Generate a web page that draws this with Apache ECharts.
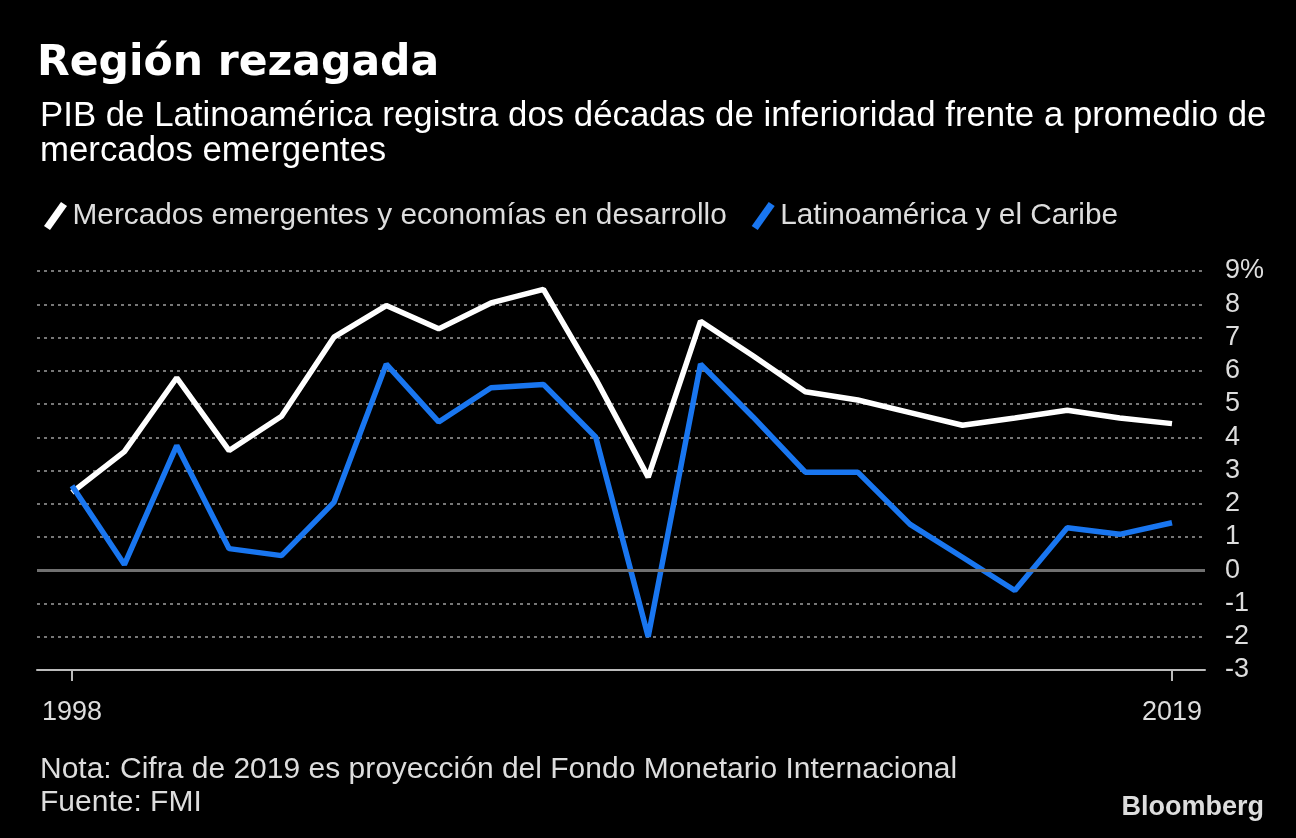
<!DOCTYPE html>
<html>
<head>
<meta charset="utf-8">
<script src="https://cdn.jsdelivr.net/npm/echarts@6/dist/echarts.min.js"></script>
<style>
html,body{margin:0;padding:0;background:#000;}
#chart{width:1296px;height:838px;}
</style>
</head>
<body>
<div id="chart"></div>
<script>
const years = [1998,1999,2000,2001,2002,2003,2004,2005,2006,2007,2008,2009,2010,2011,2012,2013,2014,2015,2016,2017,2018,2019];
const emergingValues = [2.34,3.57,5.79,3.60,4.63,7.01,7.96,7.26,8.04,8.45,5.75,2.80,7.49,6.45,5.37,5.12,4.74,4.36,4.58,4.81,4.58,4.41];
const latamValues = [2.54,0.17,3.75,0.65,0.44,2.04,6.20,4.46,5.49,5.59,4.00,-2.00,6.20,4.61,2.95,2.95,1.38,0.39,-0.61,1.28,1.08,1.43];
const xTickYears = [1998, 2019];
const seriesNames = ['Mercados emergentes y economías en desarrollo', 'Latinoamérica y el Caribe'];
const titleText = 'Región rezagada';
const subtitleText = 'PIB de Latinoamérica registra dos décadas de inferioridad frente a promedio de\nmercados emergentes';
const noteText = 'Nota: Cifra de 2019 es proyección del Fondo Monetario Internacional\nFuente: FMI';

const FONT = 'Liberation Sans';
const chart = echarts.init(document.getElementById('chart'));
const slash = 'path://M0,24 L17,0 L23,4 L6,28 Z';
chart.setOption({
  backgroundColor: '#000',
  animation: false,
  title: [
    {text: titleText, left: 32, top: 37, textStyle: {color: '#fff', fontFamily: 'DejaVu Sans', fontWeight: 'bold', fontSize: 42.5}},
    {text: subtitleText, left: 35, top: 94, textStyle: {color: '#fff', fontFamily: FONT, fontWeight: 'normal', fontSize: 34.8, lineHeight: 35}},
    {text: noteText, left: 35, top: 748, textStyle: {color: '#ddd', fontFamily: FONT, fontWeight: 'normal', fontSize: 30, lineHeight: 33}},
    {text: 'Bloomberg', right: 27, top: 789, textStyle: {color: '#ddd', fontFamily: FONT, fontWeight: 'bold', fontSize: 27}}
  ],
  legend: {
    left: 39, top: 196, itemWidth: 24, itemHeight: 28, itemGap: 25,
    icon: slash,
    textStyle: {color: '#ddd', fontFamily: FONT, fontSize: 29.8},
    data: seriesNames
  },
  grid: {left: 37, right: 91, top: 271, bottom: 168},
  xAxis: {
    type: 'value', min: 1997.332, max: 2019.63,
    axisLine: {show: true, onZero: false, lineStyle: {color: '#bbb', width: 2}},
    axisTick: {show: true, customValues: xTickYears, length: 11, lineStyle: {color: '#bbb', width: 2}},
    axisLabel: {customValues: xTickYears, color: '#ddd', fontFamily: FONT, fontSize: 27, margin: 29, formatter: v => String(v)},
    splitLine: {show: false}
  },
  yAxis: {
    type: 'value', position: 'right', min: -3, max: 9, interval: 1,
    axisLine: {show: false}, axisTick: {show: false},
    axisLabel: {color: '#ddd', fontFamily: FONT, fontSize: 27, margin: 20, formatter: v => v === 9 ? '9%' : String(v)},
    splitLine: {show: true, lineStyle: {color: '#777', width: 2, type: [3, 4]}}
  },
  series: [
    {
      name: seriesNames[0], type: 'line', symbol: 'none',
      data: years.map((y, i) => [y, emergingValues[i]]),
      itemStyle: {color: '#fff'},
      lineStyle: {color: '#fff', width: 5.5},
      markLine: {silent: true, symbol: 'none', label: {show: false},
        lineStyle: {color: '#707070', width: 3, type: 'solid'},
        data: [{yAxis: 0}]},
      z: 3
    },
    {
      name: seriesNames[1], type: 'line', symbol: 'none',
      data: years.map((y, i) => [y, latamValues[i]]),
      itemStyle: {color: '#1976F0'},
      lineStyle: {color: '#1976F0', width: 5.5},
      z: 4
    }
  ]
});
</script>
</body>
</html>
